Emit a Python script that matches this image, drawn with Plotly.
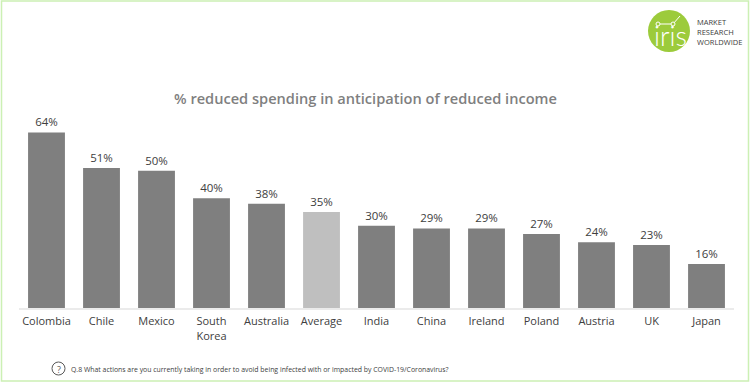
import plotly.graph_objects as go

categories = ["Colombia", "Chile", "Mexico", "South<br>Korea", "Australia", "Average", "India", "China", "Ireland", "Poland", "Austria", "UK", "Japan"]
values = [64, 51, 50, 40, 38, 35, 30, 29, 29, 27, 24, 23, 16]
labels = [f"{v}%" for v in values]
colors = ["#7f7f7f"] * 5 + ["#bfbfbf"] + ["#7f7f7f"] * 7

FONT = "Open Sans, DejaVu Sans, sans-serif"
L, R, T, B = 19, 734, 116, 308
def px(x): return (x - L) / (R - L)
def py(y): return (B - y) / (B - T)

fig = go.Figure(go.Bar(
    x=categories, y=values, text=labels, textposition="outside", cliponaxis=False,
    textfont=dict(size=11.5, color="#404040", family=FONT),
    marker=dict(color=colors, line=dict(width=0)), width=0.67,
))

fig.update_layout(
    width=750, height=385, showlegend=False,
    margin=dict(l=L, r=750 - R, t=T, b=385 - B, pad=0),
    paper_bgcolor="white", plot_bgcolor="white", bargap=0.33,
    xaxis=dict(type="category", showgrid=False, zeroline=False, showline=True, linecolor="#ebebeb", linewidth=2,
               ticks="", ticklabelstandoff=2, tickfont=dict(size=11, color="#404040", family=FONT), tickangle=0),
    yaxis=dict(range=[0, 70], visible=False),
    shapes=[
        dict(type="rect", xref="paper", yref="paper", x0=px(1.5), x1=px(748.5), y0=py(381), y1=py(1),
             line=dict(color="#ccf0b4", width=1.5), fillcolor="rgba(0,0,0,0)", layer="below"),
        dict(type="circle", xref="paper", yref="paper", x0=px(648), x1=px(690), y0=py(52), y1=py(10),
             fillcolor="#9ccb3b", line=dict(width=0)),
        dict(type="path", xref="paper", yref="paper",
             path=f"M {px(658)} {py(24)} L {px(673)} {py(24)} L {px(680)} {py(16)}",
             line=dict(color="white", width=1), fillcolor="rgba(0,0,0,0)"),
        dict(type="circle", xref="paper", yref="paper", x0=px(656), x1=px(660), y0=py(26), y1=py(22),
             fillcolor="#9ccb3b", line=dict(color="white", width=1)),
        dict(type="circle", xref="paper", yref="paper", x0=px(671), x1=px(675), y0=py(26), y1=py(22),
             fillcolor="#9ccb3b", line=dict(color="white", width=1)),
        dict(type="circle", xref="paper", yref="paper", x0=px(52), x1=px(65), y0=py(375), y1=py(362),
             fillcolor="rgba(0,0,0,0)", line=dict(color="#595959", width=1)),
    ],
    annotations=[
        dict(text="% reduced spending in anticipation of reduced income", xref="paper", yref="paper",
             x=px(365.5), y=py(98), showarrow=False, xanchor="center", yanchor="middle",
             font=dict(size=14.6, color="#7f7f7f", family=FONT, weight=600)),
        dict(text="iris", xref="paper", yref="paper", x=px(670), y=py(35), showarrow=False,
             xanchor="center", yanchor="middle", font=dict(size=27, color="white", family="Lato, sans-serif", weight=300)),
        dict(text="MARKET<br>RESEARCH<br>WORLDWIDE", xref="paper", yref="paper", x=px(695), y=py(32),
             showarrow=False, xanchor="left", yanchor="middle", align="left",
             font=dict(size=7.5, color="#404040", family=FONT)),
        dict(text="?", xref="paper", yref="paper", x=px(58.5), y=py(369.5), showarrow=False,
             xanchor="center", yanchor="middle", font=dict(size=9, color="#595959", family=FONT)),
        dict(text="Q.8 What actions are you currently taking in order to avoid being infected with or impacted by COVID-19/Coronavirus?",
             xref="paper", yref="paper", x=px(69), y=py(369), showarrow=False, xanchor="left", yanchor="middle",
             font=dict(size=6.9, color="#404040", family=FONT)),
    ],
)
fig.write_html("out.html", post_script="document.body.style.margin='0';", config=dict(displayModeBar=False))
